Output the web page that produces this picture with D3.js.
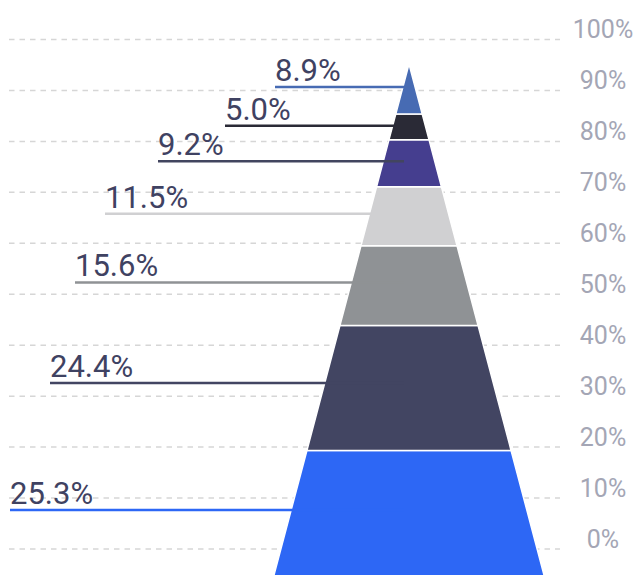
<!DOCTYPE html>
<html>
<head>
<meta charset="utf-8">
<script src="https://cdn.jsdelivr.net/npm/d3@7"></script>
<style>
  html, body { margin: 0; padding: 0; background: #fff; }
  svg { display: block; font-family: Roboto, "Noto Sans", sans-serif; }
</style>
</head>
<body>
<div id="chart"></div>
<script>
// shares, bottom slice first
var values = [25.3, 24.4, 15.6, 11.5, 9.2, 5.0, 8.9];
var colors = ["#2d67f5", "#424562", "#8f9295", "#d0d0d2", "#453e8f", "#2a2a36", "#476bb3"];
var lineColors = ["#2d67f5", "#424562", "#8f9295", "#d0d0d2", "#42455f", "#2a2a36", "#476bb3"];
var tickValues = [0, 10, 20, 30, 40, 50, 60, 70, 80, 90, 100];

var svg = d3.select("#chart")
    .append("svg")
    .attr("width", 636)
    .attr("height", 575);

// right axis / grid scale
var y = d3.scaleLinear().domain([0, 100]).range([549, 39.5]);
// pyramid has its own vertical scale (sits a bit lower than the grid)
var yP = d3.scaleLinear().domain([0, 100]).range([580, 68]);
var cx = 409;
var apexY = yP(100) - 4;
var halfW = d3.scaleLinear().domain([apexY, yP(0)]).range([0, 136.3]);

// where each label / leader starts, by the slice's middle value
var leaderStart = d3.scaleLinear()
    .domain([12.65, 37.5, 57.5, 71.05, 81.4, 88.5, 95.45])
    .range([10, 50, 75, 105, 158, 225, 275]);

// grid lines
svg.append("g")
    .attr("class", "grid")
    .selectAll("line")
    .data(tickValues)
    .enter().append("line")
    .attr("x1", 9)
    .attr("x2", 560)
    .attr("y1", function (d) { return y(d); })
    .attr("y2", function (d) { return y(d); })
    .style("stroke", "#d6d6d6")
    .style("stroke-width", 1.5)
    .style("stroke-dasharray", "5.5,5");

// right axis labels
var yAxis = d3.axisRight(y)
    .tickValues(tickValues)
    .tickSize(0)
    .tickFormat(function (d) { return d + "%"; });

var ax = svg.append("g")
    .attr("class", "axis")
    .attr("transform", "translate(603,0)")
    .call(yAxis);
ax.select(".domain").remove();
ax.selectAll("text")
    .attr("x", 0)
    .attr("dy", "-2px")
    .attr("text-anchor", "middle")
    .style("font-size", "25px")
    .style("font-family", "Roboto, sans-serif")
    .style("fill", "#a4a6b5");

// stacked slices
var cum = 0;
var slices = values.map(function (v, i) {
    var s = { value: v, index: i, lo: cum, hi: cum + v };
    cum += v;
    return s;
});

slices.forEach(function (s, i) {
    s.yBot = yP(s.lo);
    s.yTop = i === slices.length - 1 ? apexY : yP(s.hi);
    s.lineY = s.yTop + 0.46 * (s.yBot - s.yTop);
    s.x0 = leaderStart((s.lo + s.hi) / 2);
});

svg.append("g")
    .selectAll("path")
    .data(slices)
    .enter().append("path")
    .attr("d", function (d) {
        var t = halfW(d.yTop), b = halfW(d.yBot);
        return "M" + (cx - t) + "," + d.yTop +
            "L" + (cx + t) + "," + d.yTop +
            "L" + (cx + b) + "," + d.yBot +
            "L" + (cx - b) + "," + d.yBot + "Z";
    })
    .style("fill", function (d) { return colors[d.index]; })
    .style("stroke", "#fff")
    .style("stroke-width", 1.5);

// leader lines + value labels
var lab = svg.append("g")
    .selectAll("g")
    .data(slices)
    .enter().append("g");

lab.append("line")
    .attr("x1", function (d) { return d.x0; })
    .attr("x2", cx - 5)
    .attr("y1", function (d) { return d.lineY; })
    .attr("y2", function (d) { return d.lineY; })
    .style("stroke", function (d) { return lineColors[d.index]; })
    .style("stroke-width", 2.5);

lab.append("text")
    .attr("x", function (d) { return d.x0; })
    .attr("y", function (d) { return d.lineY - 6; })
    .style("font-size", "31px")
    .style("fill", "#3f4262")
    .text(function (d) { return d.value.toFixed(1) + "%"; });
</script>
</body>
</html>
